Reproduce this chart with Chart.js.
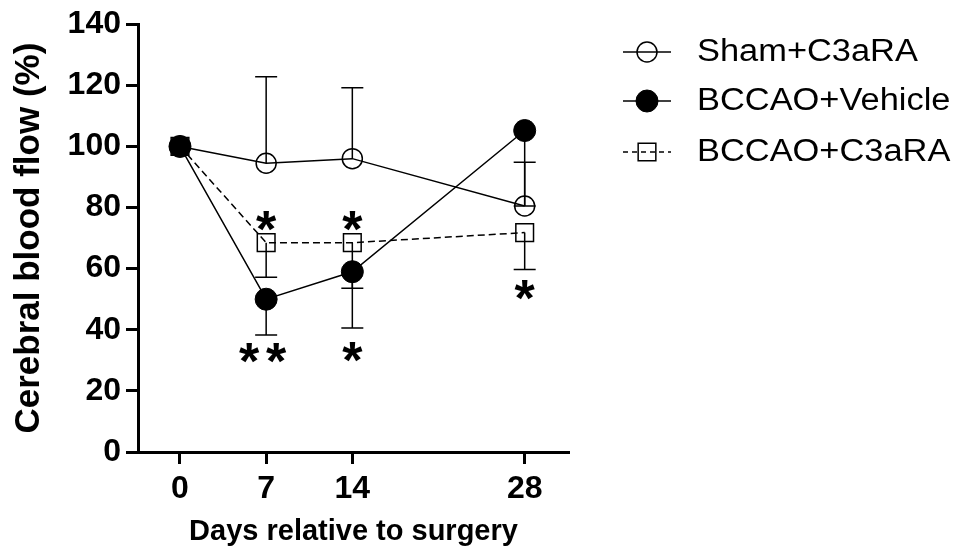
<!DOCTYPE html>
<html>
<head>
<meta charset="utf-8">
<title>Cerebral blood flow</title>
<script src="https://cdn.jsdelivr.net/npm/chart.js@4.4.1/dist/chart.umd.min.js"></script>
<style>
  html, body { margin: 0; padding: 0; background: #fff; }
  #wrap { width: 960px; height: 554px; }
</style>
</head>
<body>
<div id="wrap"><canvas id="flowChart" width="960" height="554"></canvas></div>
<script>
// Data
const days = [0, 7, 14, 28];
const seriesNames = ['Sham+C3aRA', 'BCCAO+Vehicle', 'BCCAO+C3aRA'];
const shamC3aRA = [100, 94.5, 96, 80.5];
const bccaoVehicle = [100, 50, 59, 105.2];
const bccaoC3aRA = [100, 68.5, 68.5, 71.8];

// one-sided error bar ends (null = none drawn)
const shamErrEnd = [null, 122.8, 119.2, 94.8];
const vehicleErrEnd = [null, 38.3, 40.6, 80.5];
const c3aRAErrEnd = [null, 57.2, 53.6, 59.7];

// significance marks: day, level on the y scale, number of stars
const starDays = [7, 14, 7, 14, 28];
const starLevels = [75.7, 75.5, 32.3, 32.8, 52.9];
const starCounts = [1, 1, 2, 1, 1];

const yTicks = [0, 20, 40, 60, 80, 100, 120, 140];

Chart.defaults.font.family = '"Liberation Sans", Arial, sans-serif';
Chart.defaults.color = '#000';

function toPoints(values) {
  return days.map((d, i) => ({ x: d, y: values[i] }));
}

const datasets = [
  {
    label: seriesNames[0],
    data: toPoints(shamC3aRA),
    errEnd: shamErrEnd,
    borderColor: '#000',
    borderWidth: 1.5,
    pointStyle: 'circle',
    pointRadius: 10,
    pointBackgroundColor: 'rgba(0,0,0,0)',
    pointBorderColor: '#000',
    pointBorderWidth: 1.5,
    order: 2
  },
  {
    label: seriesNames[1],
    data: toPoints(bccaoVehicle),
    errEnd: vehicleErrEnd,
    borderColor: '#000',
    borderWidth: 1.5,
    pointStyle: 'circle',
    pointRadius: 11,
    pointBackgroundColor: '#000',
    pointBorderColor: '#000',
    pointBorderWidth: 1,
    order: 0
  },
  {
    label: seriesNames[2],
    data: toPoints(bccaoC3aRA),
    errEnd: c3aRAErrEnd,
    borderColor: '#000',
    borderWidth: 1.5,
    borderDash: [7, 4],
    pointStyle: 'rect',
    pointRadius: 12.5,
    pointBackgroundColor: 'rgba(0,0,0,0)',
    pointBorderColor: '#000',
    pointBorderWidth: 1.5,
    order: 1
  }
];

// error bars drawn under the markers
const errorBars = {
  id: 'errorBars',
  beforeDatasetsDraw(chart) {
    const ctx = chart.ctx;
    const xs = chart.scales.x;
    const ys = chart.scales.y;
    ctx.save();
    ctx.strokeStyle = '#000';
    ctx.lineWidth = 1.5;
    chart.data.datasets.forEach(ds => {
      ds.data.forEach((p, i) => {
        const end = ds.errEnd[i];
        if (end == null) return;
        const x = xs.getPixelForValue(p.x);
        const y0 = ys.getPixelForValue(p.y);
        const y1 = ys.getPixelForValue(end);
        ctx.beginPath();
        ctx.moveTo(x, y0);
        ctx.lineTo(x, y1);
        ctx.moveTo(x - 11, y1);
        ctx.lineTo(x + 11, y1);
        ctx.stroke();
      });
    });
    ctx.restore();
  }
};

// asterisks
const stars = {
  id: 'stars',
  afterDatasetsDraw(chart) {
    const ctx = chart.ctx;
    const xs = chart.scales.x;
    const ys = chart.scales.y;
    ctx.save();
    ctx.fillStyle = '#000';
    ctx.font = 'bold 52px "Liberation Sans", Arial, sans-serif';
    ctx.textAlign = 'center';
    ctx.textBaseline = 'alphabetic';
    const m = ctx.measureText('*');
    const shift = (m.actualBoundingBoxAscent - m.actualBoundingBoxDescent) / 2;
    starDays.forEach((d, i) => {
      const x = xs.getPixelForValue(d);
      const y = ys.getPixelForValue(starLevels[i]) + shift;
      if (starCounts[i] === 2) {
        ctx.fillText('*', x - 17, y);
        ctx.fillText('*', x + 10, y);
      } else {
        ctx.fillText('*', x, y);
      }
    });
    ctx.restore();
  }
};

// legend on the right, same look as the markers
const sideLegend = {
  id: 'sideLegend',
  afterDraw(chart) {
    const ctx = chart.ctx;
    const rowY = [52, 101, 152];
    chart.data.datasets.forEach((ds, i) => {
      const y = rowY[i];
      ctx.save();
      ctx.strokeStyle = '#000';
      ctx.lineWidth = 1.5;
      ctx.setLineDash(ds.borderDash ? [5, 4] : []);
      ctx.beginPath();
      ctx.moveTo(623, y);
      ctx.lineTo(671, y);
      ctx.stroke();
      ctx.setLineDash([]);
      ctx.fillStyle = ds.pointBackgroundColor;
      ctx.lineWidth = ds.pointBorderWidth;
      Chart.helpers.drawPoint(ctx, {
        pointStyle: ds.pointStyle,
        radius: ds.pointRadius,
        borderWidth: ds.pointBorderWidth,
        rotation: 0
      }, 647, y);
      // text is a bit wider than plain Arial in the figure
      ctx.fillStyle = '#000';
      ctx.font = '31px "Liberation Sans", Arial, sans-serif';
      ctx.textAlign = 'left';
      ctx.textBaseline = 'middle';
      ctx.translate(697, y);
      ctx.scale(1.11, 1);
      ctx.fillText(ds.label, 0, 0);
      ctx.restore();
    });
  }
};

const tickGrid = {
  display: true,
  drawOnChartArea: false,
  drawTicks: true,
  tickLength: 12,
  tickWidth: 3,
  tickColor: '#000',
  color: '#000'
};

new Chart(document.getElementById('flowChart'), {
  type: 'line',
  data: { datasets: datasets },
  options: {
    responsive: false,
    animation: false,
    layout: { padding: { left: 0, top: 21, right: 391, bottom: 0 } },
    plugins: {
      legend: { display: false },
      tooltip: { enabled: false }
    },
    scales: {
      x: {
        type: 'linear',
        min: -3.41,
        max: 31.6,
        afterBuildTicks: scale => { scale.ticks = days.map(v => ({ value: v })); },
        afterFit: scale => { scale.height = 102; },
        grid: tickGrid,
        border: { display: true, color: '#000', width: 3 },
        ticks: { font: { size: 32, weight: 'bold' }, padding: 6 },
        title: {
          display: true,
          text: 'Days relative to surgery',
          font: { size: 29, weight: 'bold' },
          padding: { top: 0, bottom: 5 }
        }
      },
      y: {
        min: 0,
        max: 140,
        afterBuildTicks: scale => { scale.ticks = yTicks.map(v => ({ value: v })); },
        afterFit: scale => { scale.width = 138; },
        grid: tickGrid,
        border: { display: true, color: '#000', width: 3 },
        ticks: { font: { size: 32, weight: 'bold' }, padding: 5 },
        title: {
          display: true,
          text: 'Cerebral blood flow (%)',
          font: { size: 35, weight: 'bold' },
          padding: { top: 8, bottom: 0 }
        }
      }
    }
  },
  plugins: [errorBars, stars, sideLegend]
});
</script>
</body>
</html>
